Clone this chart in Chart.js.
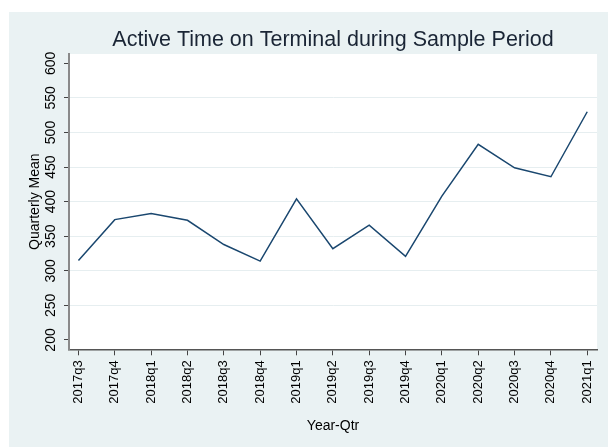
<!DOCTYPE html>
<html>
<head>
<meta charset="utf-8">
<title>Active Time on Terminal</title>
<script src="https://cdn.jsdelivr.net/npm/chart.js@4"></script>
<style>
  html, body { margin: 0; padding: 0; background: #fff; }
  #wrap { position: absolute; left: 9px; top: 12px; width: 599px; height: 435px; background: #eaf2f3; }
</style>
</head>
<body>
<div id="wrap"><canvas id="termChart" width="599" height="435"></canvas></div>
<script>
// values
const chartTitle = "Active Time on Terminal during Sample Period";
const quarters = [
  "2017q3", "2017q4", "2018q1", "2018q2", "2018q3", "2018q4", "2019q1", "2019q2",
  "2019q3", "2019q4", "2020q1", "2020q2", "2020q3", "2020q4", "2021q1"
];
const quarterlyMean = [315, 374, 383, 373, 338, 314, 404, 332, 366, 321, 408, 483, 449, 436, 530];
const yTicks = [200, 250, 300, 350, 400, 450, 500, 550, 600];

// white plot region + title centred over the plot
const plotBackground = {
  id: "plotBackground",
  beforeDraw(chart) {
    const { ctx, chartArea: a } = chart;
    ctx.save();
    ctx.fillStyle = "#ffffff";
    ctx.fillRect(a.left, a.top, a.right - a.left, a.bottom - a.top);
    ctx.restore();
  },
  afterDraw(chart) {
    const { ctx, chartArea: a } = chart;
    ctx.save();
    ctx.fillStyle = "#1a2535";
    ctx.font = "21.5px 'Liberation Sans', Arial, sans-serif";
    ctx.textAlign = "center";
    ctx.textBaseline = "middle";
    ctx.fillText(chartTitle, (a.left + a.right) / 2, 28);
    ctx.restore();
  }
};

// Stata style vertical y tick labels
const verticalYLabels = {
  id: "verticalYLabels",
  afterDraw(chart) {
    const { ctx } = chart;
    const y = chart.scales.y;
    ctx.save();
    ctx.fillStyle = "#000";
    ctx.font = "14px 'Liberation Sans', Arial, sans-serif";
    ctx.textAlign = "center";
    ctx.textBaseline = "middle";
    y.ticks.forEach((t) => {
      const py = y.getPixelForValue(t.value);
      ctx.save();
      ctx.translate(42.5, py);
      ctx.rotate(-Math.PI / 2);
      ctx.fillText(String(t.value), 0, 0);
      ctx.restore();
    });
    ctx.restore();
  }
};

const canvas = document.getElementById("termChart").getContext("2d");

const termChart = new Chart(canvas, {
  type: "line",
  data: {
    datasets: [
      {
        label: "Quarterly Mean",
        data: quarterlyMean.map((v, i) => ({ x: i, y: v })),
        borderColor: "#1a476f",
        borderWidth: 1.5,
        pointRadius: 0,
        tension: 0,
        fill: false,
      },
    ],
  },
  options: {
    responsive: false,
    animation: false,
    layout: { padding: { top: 42, right: 8.7, left: 0, bottom: 0 } },
    plugins: {
      legend: { display: false },
      tooltip: { enabled: false },
    },
    scales: {
      x: {
        type: "linear",
        min: -0.26,
        max: 14.27,
        afterBuildTicks: (scale) => {
          scale.ticks = quarters.map((q, i) => ({ value: i }));
        },
        afterFit: (scale) => {
          scale.height = 97.7;
        },
        ticks: {
          callback: (v) => quarters[v],
          minRotation: 90,
          maxRotation: 90,
          autoSkip: false,
          padding: 5,
          color: "#000",
          font: { size: 13, family: "'Liberation Sans', Arial, sans-serif" },
        },
        grid: {
          drawOnChartArea: false,
          drawTicks: true,
          tickLength: 6,
          tickColor: "#444",
        },
        border: { display: true, color: "#555", width: 1.5 },
        title: {
          display: true,
          text: "Year-Qtr",
          color: "#000",
          font: { size: 14, family: "'Liberation Sans', Arial, sans-serif" },
          padding: { top: 0, bottom: 12 },
        },
      },
      y: {
        min: 186.5,
        max: 613.5,
        afterBuildTicks: (scale) => {
          scale.ticks = yTicks.map((v) => ({ value: v }));
        },
        afterFit: (scale) => {
          scale.width = 60;
        },
        ticks: { display: false },
        grid: {
          color: (ctx) => (ctx.tick && (ctx.tick.value === 200 || ctx.tick.value === 600) ? "rgba(0,0,0,0)" : "#e6eef0"),
          lineWidth: 1,
          drawTicks: true,
          tickLength: 5,
          tickColor: "#444",
        },
        border: { display: true, color: "#8a8a8a", width: 2 },
        title: {
          display: true,
          text: "Quarterly Mean",
          color: "#000",
          font: { size: 14, family: "'Liberation Sans', Arial, sans-serif" },
          padding: { top: 18, bottom: 0 },
        },
      },
    },
  },
  plugins: [plotBackground, verticalYLabels],
});
</script>
</body>
</html>
